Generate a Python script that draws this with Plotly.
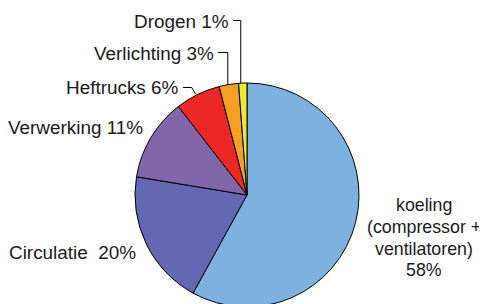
import plotly.graph_objects as go
import math

# Data
categories = ["koeling (compressor + ventilatoren)", "Circulatie", "Verwerking", "Heftrucks", "Verlichting", "Drogen"]
values = [58, 19.6, 11.9, 6.5, 2.8, 1.2]
koeling_lines = ["koeling", "(compressor &#43;", "ventilatoren)", "58%"]
label_texts = ["", "Circulatie  20%", "Verwerking 11%", "Heftrucks 6%", "Verlichting 3%", "Drogen 1%"]
colors = ["#7CB1E0", "#6468B2", "#8166AC", "#EC2826", "#F5A023", "#EDE835"]

W, H = 487, 304
OFF = 8  # page body margin offset: positions below are window pixels

# desired pie geometry in window pixels
pie_cx, pie_cy, pie_r = 247, 195, 112

def px(x):
    return (x - OFF) / W

def py(y):
    return 1 - (y - OFF) / H

fig = go.Figure(go.Pie(
    labels=categories, values=values, sort=False, direction="clockwise", rotation=0,
    marker=dict(colors=colors, line=dict(color="black", width=1)),
    textinfo="none", hoverinfo="label+percent", showlegend=False,
    domain=dict(x=[px(pie_cx - pie_r), px(pie_cx + pie_r)], y=[py(pie_cy + pie_r), py(pie_cy - pie_r)]),
))

total = sum(values)
cum = 0
mids = []
for v in values:
    mids.append((cum + v / 2) / total * 2 * math.pi)
    cum += v

def edge(i):
    a = mids[i]
    return pie_cx + pie_r * math.sin(a), pie_cy - pie_r * math.cos(a)

font_l = dict(family="Liberation Sans, Arial, sans-serif", size=18.9, color="#1a1a1a")
font_k = dict(family="Liberation Sans, Arial, sans-serif", size=17.8, color="#1a1a1a")
annotations = []
shapes = []

def label(text, x, y, xanchor, font):
    annotations.append(dict(text=text, x=px(x), y=py(y), xref="paper", yref="paper",
                            xanchor=xanchor, yanchor="middle", showarrow=False, font=font,
                            align="center"))

for k, t in enumerate(koeling_lines):
    label(t, 423.5, 205 + 21.8 * k, "center", font_k)
label(label_texts[1], 138, 252, "right", font_l)
label(label_texts[2], 145, 127.5, "right", font_l)
label(label_texts[3], 181, 88, "right", font_l)
label(label_texts[4], 216, 53, "right", font_l)
label(label_texts[5], 231, 21.5, "right", font_l)

def line(points):
    path = "M " + " L ".join(f"{px(x)},{py(y)}" for x, y in points)
    shapes.append(dict(type="path", path=path, xref="paper", yref="paper",
                       line=dict(color="black", width=1)))

ex, ey = edge(5)
line([(233, 20.5), (ex - 2, 20.5), (ex - 2, ey)])
ex, ey = edge(4)
line([(218, 52.5), (ex - 1, 52.5), (ex - 1, ey)])
ex, ey = edge(3)
line([(183, 87.5), (ex - 6, 87.5), (ex - 2, ey)])

fig.update_layout(width=W, height=H, margin=dict(l=0, r=0, t=0, b=0),
                  paper_bgcolor="white", plot_bgcolor="white",
                  annotations=annotations, shapes=shapes)
fig.write_html("out.html")
